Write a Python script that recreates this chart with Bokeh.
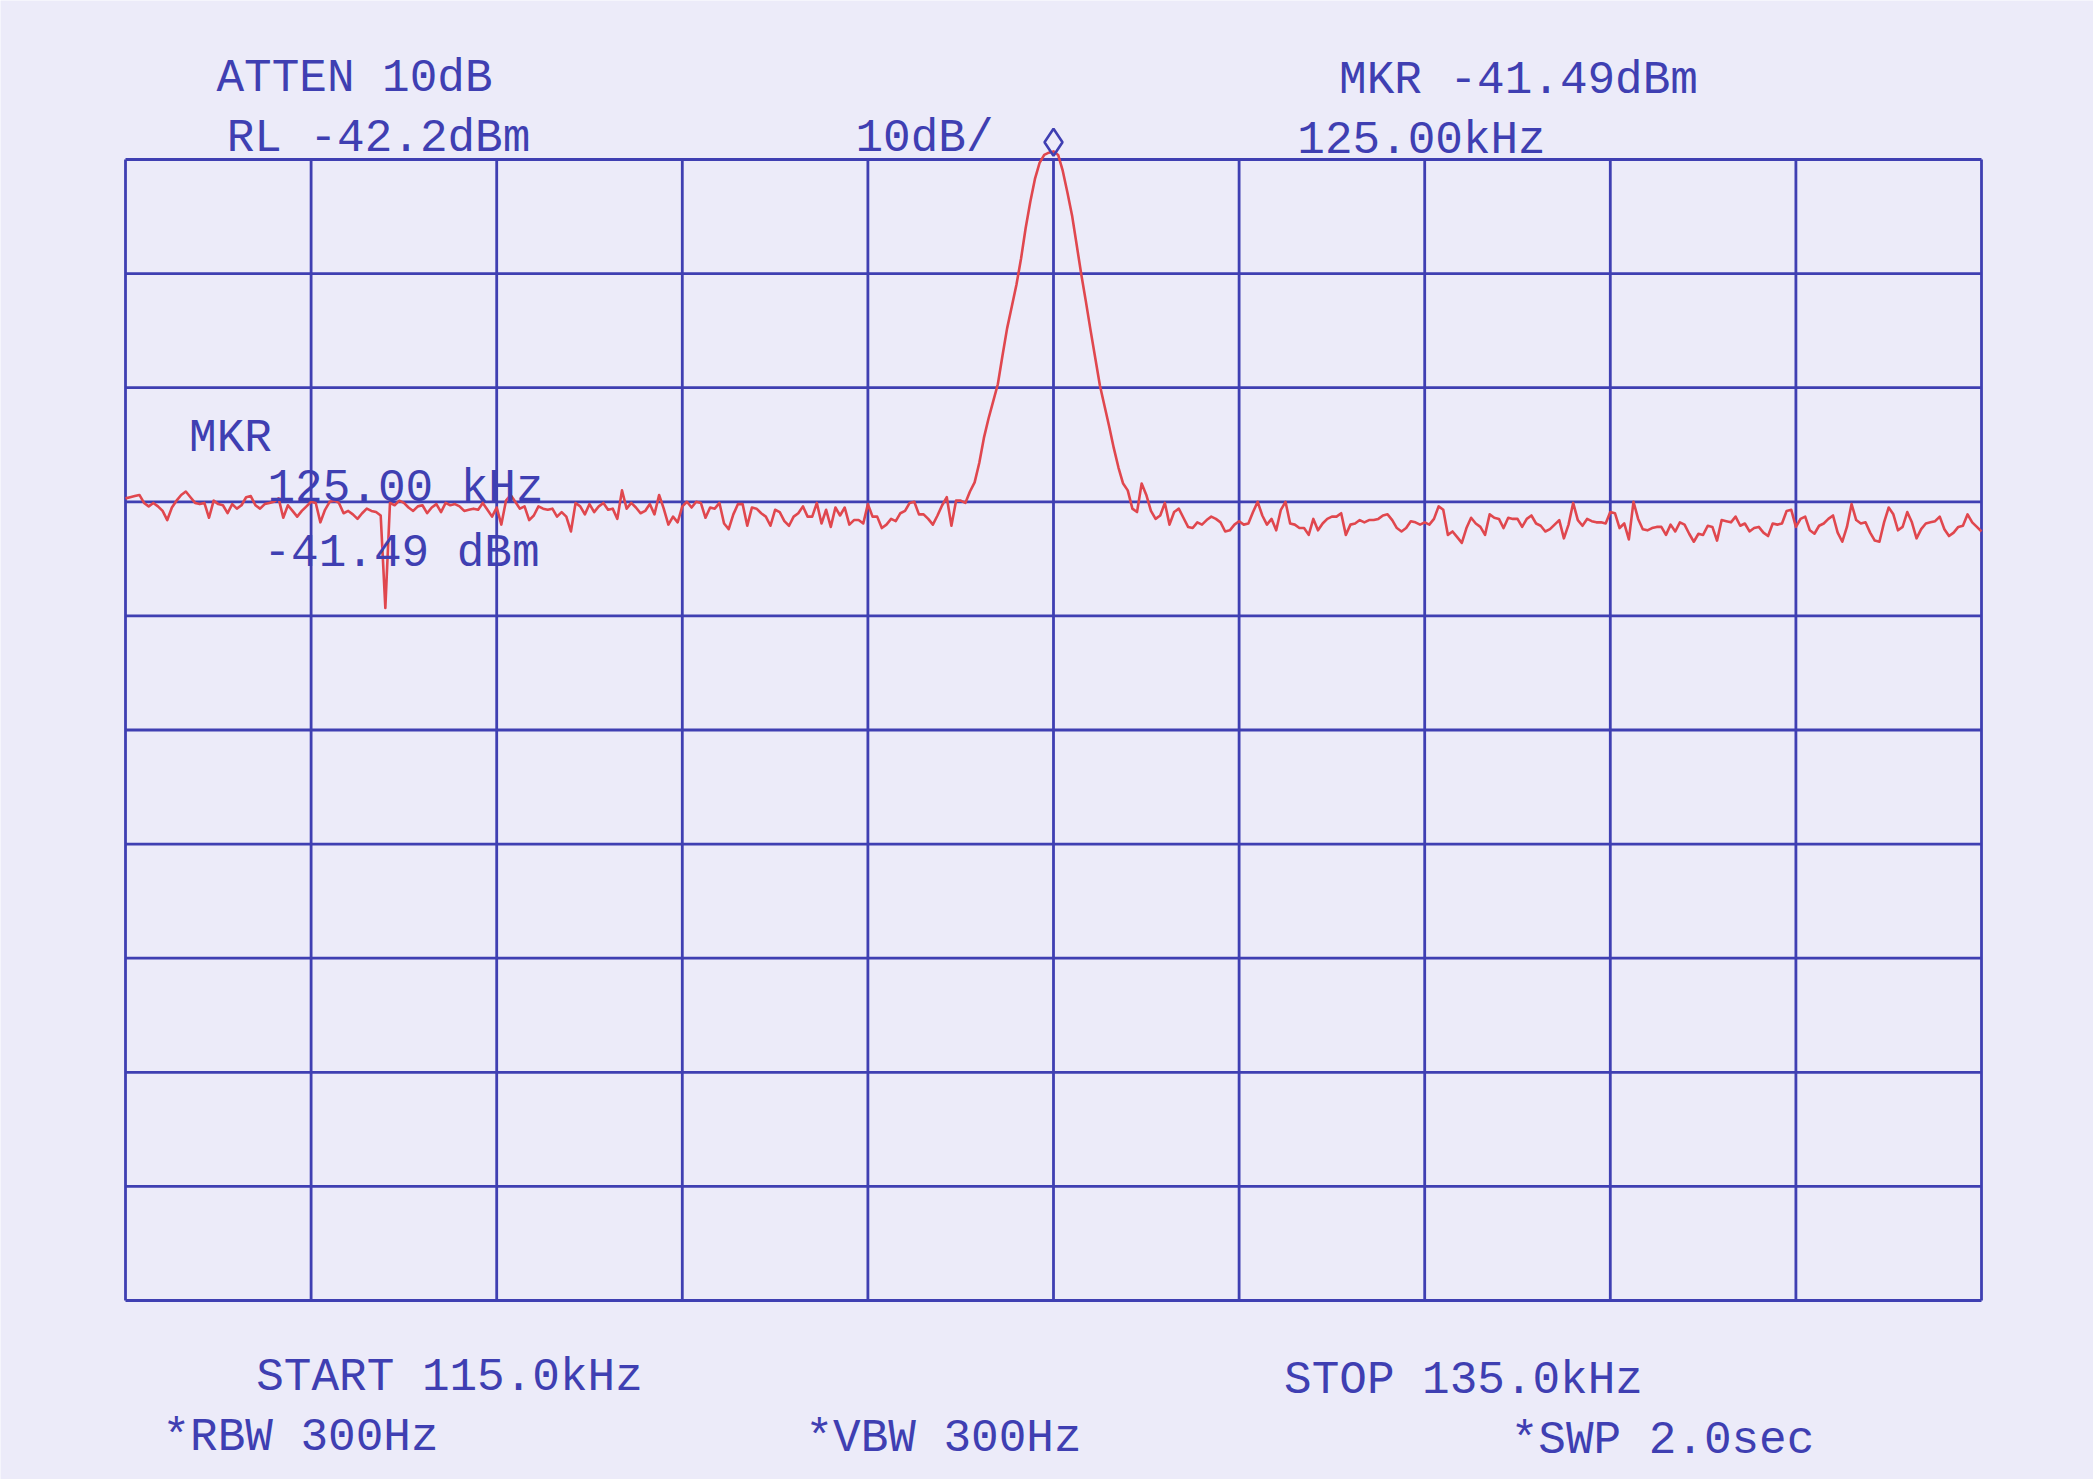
import numpy as np
from bokeh.plotting import figure
from bokeh.models import Label, Range1d
from bokeh.embed import file_html
from bokeh.resources import INLINE

# ---------------- data ----------------
start_khz = 115.0
stop_khz = 135.0
ref_level_dbm = -42.2
db_per_div = 10.0
n_div_x = 10
n_div_y = 10
marker_khz = 125.00
marker_dbm = -41.49

trace_dbm = [
    -71.9, -71.8, -71.7, -71.6, -72.3, -72.6, -72.3, -72.6, -73.0, -73.8,
    -72.7, -72.1, -71.6, -71.3, -71.8, -72.3, -72.4, -72.3, -73.6, -72.1,
    -72.4, -72.5, -73.2, -72.4, -72.8, -72.5, -71.8, -71.7, -72.5, -72.8,
    -72.4, -72.3, -72.2, -71.9, -73.6, -72.5, -73.0, -73.5, -73.0, -72.6,
    -72.2, -72.3, -74.0, -72.9, -72.2, -72.1, -72.3, -73.2, -73.0, -73.3,
    -73.7, -73.2, -72.8, -73.0, -73.1, -73.4, -81.5, -72.3, -72.5, -72.1,
    -72.3, -72.7, -73.0, -72.6,
    -72.5, -73.2, -72.7, -72.4, -73.1, -72.3, -72.5, -72.4, -72.6, -73.0,
    -72.9, -72.8, -72.9, -72.3, -72.9, -73.5, -72.7, -74.2, -72.1, -71.6,
    -72.2, -72.8, -72.6, -73.8, -73.4, -72.6, -72.8, -72.9, -72.8, -73.5,
    -73.1, -73.5, -74.8, -72.3, -72.6, -73.3, -72.4, -73.1, -72.6, -72.3,
    -72.9, -72.8, -73.7, -71.2, -72.8, -72.3, -72.7, -73.2, -73.0, -72.4,
    -73.3, -71.6, -72.8, -74.2, -73.5, -74.0, -72.6, -72.2, -72.7, -72.2,
    -72.3, -73.6, -72.7, -72.8, -72.3,
    -74.1, -74.6, -73.3, -72.4, -72.4, -74.3, -72.7, -72.8, -73.2, -73.5,
    -74.3, -72.9, -73.1, -73.9, -74.3, -73.5, -73.2, -72.6, -73.5, -73.5,
    -72.3, -74.1, -72.9, -74.4, -72.7, -73.4, -72.7, -74.2, -73.8, -73.8,
    -74.1, -72.4, -73.5, -73.5, -74.5, -74.2, -73.7, -73.9, -73.2, -73.0,
    -72.3, -72.2, -73.3, -73.3, -73.7, -74.2, -73.4, -72.5, -71.8, -74.3,
    -72.1, -72.1, -72.3, -71.3, -70.5, -68.8,
    -66.6, -64.9, -63.4, -61.9, -59.4, -57.0, -55.1, -53.2, -50.9, -48.2,
    -45.9, -43.9, -42.5, -41.8, -41.6, -41.49, -41.8, -43.2, -45.1, -47.1,
    -49.7, -52.3, -54.7, -57.2, -59.6, -62.0, -63.8, -65.6, -67.5, -69.2,
    -70.6, -71.2, -72.8, -73.1, -70.6, -71.6, -73.0, -73.7, -73.4, -72.3,
    -74.2, -73.1, -72.8, -73.6, -74.4, -74.5, -74.0, -74.2, -73.8, -73.5,
    -73.7, -74.0, -74.8, -74.7, -74.2, -73.9, -74.2, -74.1, -73.1, -72.2,
    -73.4, -74.2, -73.7, -74.7, -72.9, -72.2, -74.1, -74.2, -74.5, -74.5,
    -75.1, -73.7, -74.7, -74.1, -73.7, -73.5, -73.5, -73.2, -75.1, -74.2,
    -74.1, -73.8, -74.0, -73.8, -73.8, -73.7, -73.4, -73.3, -73.8, -74.5,
    -74.8, -74.5, -73.9, -74.0, -74.2,
    -74.0, -74.2, -73.7, -72.6, -72.9, -75.1, -74.8, -75.3, -75.8, -74.5,
    -73.6, -74.1, -74.4, -75.1, -73.3, -73.6, -73.7, -74.5, -73.6, -73.7,
    -73.7, -74.4, -73.7, -73.4, -74.1, -74.3, -74.8, -74.6, -74.2, -73.8,
    -75.4, -74.2, -72.3, -73.8, -74.3, -73.7, -73.9, -74.0, -74.0, -74.1,
    -73.1, -73.2, -74.5, -74.1, -75.5, -72.2, -73.7, -74.6, -74.7, -74.5,
    -74.4, -74.4, -75.1, -74.2, -74.8, -74.0, -74.2, -75.0, -75.7, -75.0,
    -75.1, -74.3,
    -74.4, -75.6, -73.8, -73.9, -74.0, -73.5, -74.3, -74.1,
    -74.8, -74.5, -74.4, -74.9, -75.2, -74.1, -74.2, -74.1, -73.0, -72.9,
    -74.4, -73.7, -73.5, -74.7, -75.0, -74.3, -74.1, -73.7, -73.4, -74.9,
    -75.7, -74.4, -72.4, -73.8, -74.1, -74.0, -74.9, -75.6, -75.7, -74.0,
    -72.7, -73.3, -74.7, -74.4, -73.1, -74.0, -75.4, -74.6, -74.1, -74.0,
    -73.9, -73.5, -74.6, -75.2, -74.9, -74.4, -74.3, -73.3, -74.0, -74.4,
    -74.8,
]

header_left = ["ATTEN 10dB", "RL -42.2dBm"]
header_mid = "10dB/"
header_right = ["MKR -41.49dBm", "125.00kHz"]
inner_marker = ["MKR", "125.00 kHz", "-41.49 dBm"]
footer = ["START 115.0kHz", "STOP 135.0kHz", "*RBW 300Hz", "*VBW 300Hz", "*SWP 2.0sec"]

# ---------------- layout / style ----------------
W, H = 2093, 1479
FL, FT, FR, FB = 125, 159, 1981, 1300          # graticule edges in page pixels
BG = "#ECEBF9"
BLUE = "#3F3FB2"
RED = "#E0474E"
FONT = "Liberation Mono"
FS = "46px"

bottom_dbm = ref_level_dbm - n_div_y * db_per_div


def kx(px):
    return start_khz + (px - FL) / (FR - FL) * (stop_khz - start_khz)


def dy(py):
    return ref_level_dbm - (py - FT) / (FB - FT) * (ref_level_dbm - bottom_dbm)


# the frame covers the whole page; the graticule is drawn inside it
p = figure(width=W, height=H, output_backend="svg", toolbar_location=None,
           x_axis_location=None, y_axis_location=None, title=None,
           x_range=Range1d(kx(0), kx(W)), y_range=Range1d(dy(H), dy(0)),
           min_border=0, min_border_left=0, min_border_right=0,
           min_border_top=0, min_border_bottom=0)
p.background_fill_color = BG
p.border_fill_color = BG
p.outline_line_color = None
p.xgrid.visible = False
p.ygrid.visible = False

xt = np.linspace(start_khz, stop_khz, n_div_x + 1)
yt = np.linspace(bottom_dbm, ref_level_dbm, n_div_y + 1)
# vertical graticule lines
p.segment(x0=xt, y0=[bottom_dbm] * len(xt), x1=xt, y1=[ref_level_dbm] * len(xt),
          line_color=BLUE, line_width=2.8)
# horizontal graticule lines
p.segment(x0=[start_khz] * len(yt), y0=yt, x1=[stop_khz] * len(yt), y1=yt,
          line_color=BLUE, line_width=2.8)

freq = np.linspace(start_khz, stop_khz, len(trace_dbm))
p.line(freq, trace_dbm, line_color=RED, line_width=2.6, line_join="round")

# marker diamond drawn just above the marked point
p.scatter([marker_khz], [marker_dbm + 0.8], marker="diamond", size=27,
          fill_color=None, line_color=BLUE, line_width=2.6)


def put(txt, cx, base):
    p.add_layout(Label(x=kx(cx), y=dy(base), text=txt, text_align="center",
                       text_baseline="alphabetic", text_font=FONT,
                       text_font_size=FS, text_color=BLUE))


put(header_left[0], 354, 78)
put(header_left[1], 378, 138)
put(header_mid, 924, 138)
put(header_right[0], 1518, 80)
put(header_right[1], 1421, 140)
put(inner_marker[0], 230, 438)
put(inner_marker[1], 405, 488)
put(inner_marker[2], 401, 553)
put(footer[0], 449, 1377)
put(footer[1], 1463, 1380)
put(footer[2], 300, 1437)
put(footer[3], 943, 1438)
put(footer[4], 1662, 1440)

open("out.html", "w").write(file_html(p, INLINE))
